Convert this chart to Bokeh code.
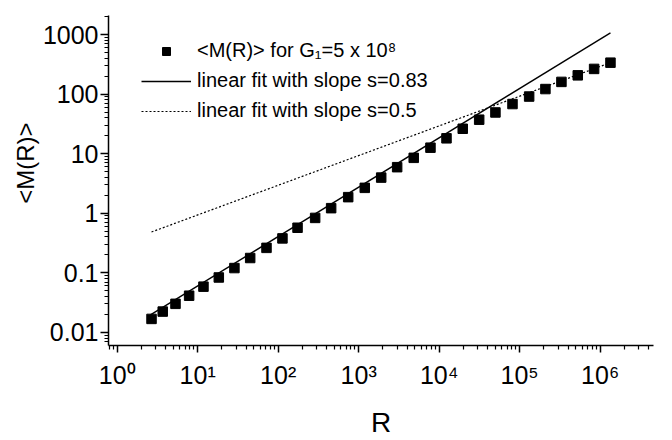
from bokeh.plotting import figure
from bokeh.models import FixedTicker, Legend, LegendItem, Title
from bokeh.embed import file_html
from bokeh.resources import INLINE

# ---- data ----
R = [2.67, 3.68, 5.30, 7.83, 11.8, 18.3, 28.6, 44.9, 71.6, 113, 174, 288, 455, 741,
     1191, 1905, 3006, 4831, 7798, 12330, 19630, 31410, 50000, 81470, 131200,
     208900, 330400, 527200, 841400, 1343000]
M = [0.0168, 0.0223, 0.0301, 0.0412, 0.0585, 0.0834, 0.120, 0.177, 0.262, 0.378,
     0.570, 0.834, 1.216, 1.862, 2.667, 3.963, 5.93, 8.51, 12.6, 18.1, 26.2, 37.2,
     49.2, 68.1, 91.0, 121.6, 160.3, 206.5, 264.9, 337.3]

fit083_R = [2.59, 1343000]
fit083_M = [0.0196, 1071]
fit05_R = [2.67, 1343000]
fit05_M = [0.484, 337]

x_ticks = [1, 10, 100, 1000, 10000, 100000, 1000000]
x_tick_labels = ["10⁰", "10¹", "10²", "10³", "10⁴", "10⁵", "10⁶"]
y_ticks = [0.01, 0.1, 1, 10, 100, 1000]
y_tick_labels = ["0.01", "0.1", "1", "10", "100", "1000"]

legend_labels = ["<M(R)> for G₁=5 x 10⁸",
                 "linear fit with slope s=0.83",
                 "linear fit with slope s=0.5"]

FONT = "Liberation Sans"

p = figure(width=672, height=440, x_axis_type="log", y_axis_type="log",
           x_range=(0.78, 4.6e6), y_range=(0.00601, 2089),
           output_backend="svg", toolbar_location=None,
           min_border_left=108, min_border_right=19,
           min_border_top=15, min_border_bottom=87)
p.outline_line_color = None
p.xgrid.visible = False
p.ygrid.visible = False
p.background_fill_color = "white"
p.border_fill_color = "white"

x_minor = [k * 10 ** d for d in range(-1, 7) for k in range(2, 10)
           if 0.78 <= k * 10 ** d <= 4.6e6]
y_minor = [k * 10 ** d for d in range(-3, 4) for k in range(2, 10)
           if 0.00601 <= k * 10 ** d <= 2089]
p.xaxis.ticker = FixedTicker(ticks=x_ticks, minor_ticks=x_minor)
p.yaxis.ticker = FixedTicker(ticks=y_ticks, minor_ticks=y_minor)
p.xaxis.major_label_overrides = {t: l for t, l in zip(x_ticks, x_tick_labels)}
p.yaxis.major_label_overrides = {t: l for t, l in zip(y_ticks, y_tick_labels)}

for ax in (p.xaxis, p.yaxis):
    ax.axis_line_color = "black"
    ax.axis_line_width = 1.5
    ax.major_tick_line_color = "black"
    ax.major_tick_line_width = 1.5
    ax.minor_tick_line_color = "black"
    ax.minor_tick_line_width = 1.2
    ax.major_tick_in = 0
    ax.minor_tick_in = 0
    ax.major_label_text_font = FONT
    ax.major_label_text_font_size = "25px"
    ax.major_label_text_color = "black"

p.xaxis.major_tick_out = 7
p.xaxis.minor_tick_out = 4
p.yaxis.major_tick_out = 8
p.yaxis.minor_tick_out = 4
p.xaxis.major_label_standoff = 8
p.yaxis.major_label_standoff = 2

p.xaxis.axis_label = "R"
p.xaxis.axis_label_text_font = FONT
p.xaxis.axis_label_text_font_size = "28px"
p.xaxis.axis_label_text_font_style = "normal"
p.xaxis.axis_label_text_color = "black"
p.xaxis.axis_label_standoff = 15

ytitle = Title(text="<M(R)>", align="right", offset=107, standoff=2,
               text_font=FONT, text_font_size="24px", text_font_style="normal",
               text_color="black")
p.add_layout(ytitle, "left")

r_d = p.line(fit05_R, fit05_M, line_color="black", line_width=1.2, line_dash="2 2")
r_s = p.line(fit083_R, fit083_M, line_color="black", line_width=1.4)
r_pts = p.scatter(R, M, marker="square", size=9.5, fill_color="black", line_color="black")

legend = Legend(items=[LegendItem(label=legend_labels[0], renderers=[r_pts]),
                       LegendItem(label=legend_labels[1], renderers=[r_s]),
                       LegendItem(label=legend_labels[2], renderers=[r_d])],
                location=(33, 223), glyph_width=50, glyph_height=20,
                label_standoff=6, spacing=7, padding=0, margin=0,
                border_line_color=None, background_fill_alpha=0,
                label_text_font=FONT, label_text_font_size="20px",
                label_text_color="black")
p.add_layout(legend)

open("out.html", "w").write(file_html(p, INLINE))
